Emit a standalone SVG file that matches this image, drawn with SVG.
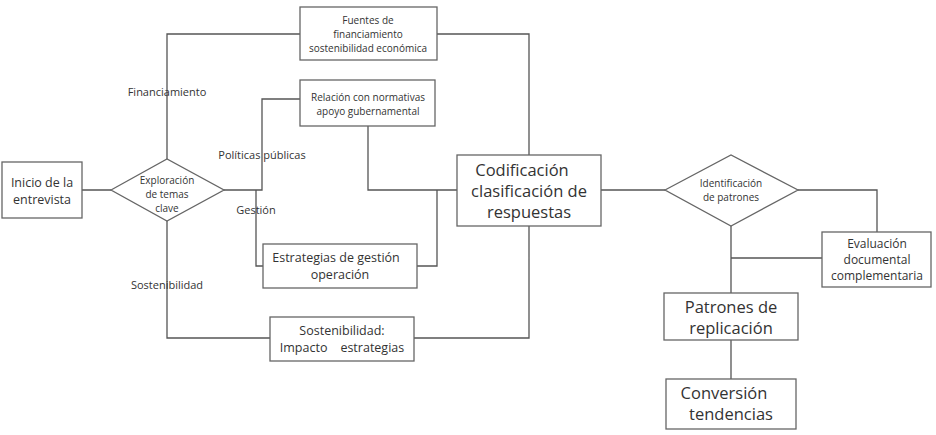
<svg xmlns="http://www.w3.org/2000/svg" width="936" height="435" viewBox="0 0 936 435">
<style>
.b{fill:#fff;stroke:#666;stroke-width:1.3}
.c{fill:none;stroke:#555;stroke-width:1.3}
text{font-family:"Open Sans","Liberation Sans",sans-serif;fill:#333;text-anchor:middle}
.s{font-size:10px}.m{font-size:12.5px}.l{font-size:16.5px}.x{font-size:11px}
</style>
<rect width="936" height="435" fill="#fff"/>
<g id="connectors">
<path class="c" d="M82 190H111M167 159V34H300M437 34H529V155M224 190H262V99H300M256 190V266H263M368 126V190H457M417 266H437V190M167 221V338H270M414 338H529V226M601 190H665M798 190H877V232M731 226V258M822 258H731V293M731 340V379"/>
</g>
<g id="lbls">
<text class="x" x="167" y="96">Financiamiento</text>
<text class="x" x="262" y="159">Políticas públicas</text>
<text class="x" x="256" y="214">Gestión</text>
<text class="x" x="167" y="289">Sostenibilidad</text>
</g>
<g id="inicio"><rect class="b" x="2" y="162" width="80" height="56"/><text class="m" x="42" y="187">Inicio de la</text><text class="m" x="42" y="204">entrevista</text></g>
<g id="exploracion"><polygon class="b" points="111,190 167,159 224,190 167,221"/><text class="s" x="167" y="184">Exploración</text><text class="s" x="167" y="198">de temas</text><text class="s" x="167" y="212">clave</text></g>
<g id="fuentes"><rect class="b" x="300" y="7" width="137" height="53"/><text class="s" x="368" y="24">Fuentes de</text><text class="s" x="368" y="38">financiamiento</text><text class="s" x="368" y="52">sostenibilidad económica</text></g>
<g id="relacion"><rect class="b" x="300" y="80" width="135" height="46"/><text class="s" x="368" y="101">Relación con normativas</text><text class="s" x="368" y="115">apoyo gubernamental</text></g>
<g id="estrategias"><rect class="b" x="263" y="244" width="154" height="44"/><text class="m" x="336" y="262">Estrategias de gestión</text><text class="m" x="340" y="279">operación</text></g>
<g id="sostenibilidad"><rect class="b" x="270" y="317" width="144" height="44"/><text class="m" x="342" y="335">Sostenibilidad:</text><text class="m" x="342" y="352" xml:space="preserve">Impacto    estrategias</text></g>
<g id="codificacion"><rect class="b" x="457" y="155" width="144" height="71"/><text class="l" x="522" y="176">Codificación</text><text class="l" x="529" y="197">clasificación de</text><text class="l" x="529" y="218">respuestas</text></g>
<g id="identificacion"><polygon class="b" points="665,190 731,155 798,190 731,226"/><text class="s" x="731" y="187">Identificación</text><text class="s" x="731" y="201">de patrones</text></g>
<g id="evaluacion"><rect class="b" x="822" y="232" width="109" height="55"/><text class="s" x="877" y="248" style="font-size:12px">Evaluación</text><text class="s" x="877" y="264" style="font-size:12px">documental</text><text class="s" x="877" y="280" style="font-size:12px">complementaria</text></g>
<g id="patrones"><rect class="b" x="664" y="293" width="134" height="47"/><text class="l" x="731" y="313">Patrones de</text><text class="l" x="731" y="334">replicación</text></g>
<g id="conversion"><rect class="b" x="666" y="379" width="130" height="50"/><text class="l" x="724" y="399">Conversión</text><text class="l" x="731" y="420">tendencias</text></g>
</svg>
